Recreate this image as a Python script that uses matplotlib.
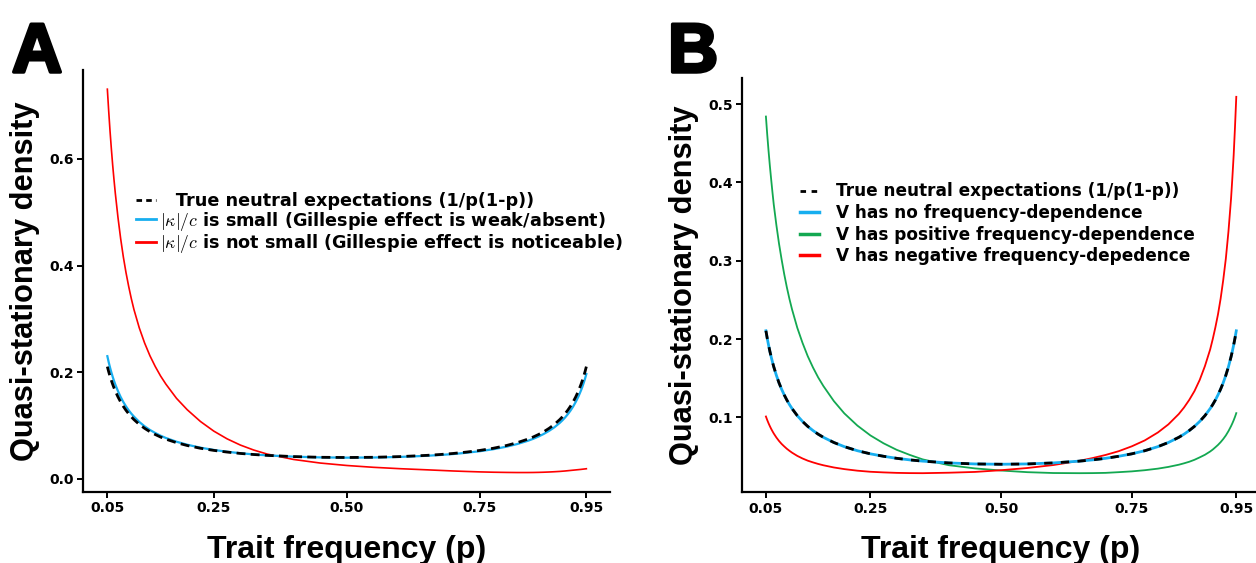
import matplotlib
matplotlib.use("Agg")
import matplotlib.pyplot as plt
from matplotlib.lines import Line2D
import matplotlib.patheffects as pe

plt.rcParams['font.family'] = ['DejaVu Sans']
plt.rcParams['mathtext.fontset'] = 'cm'
TITLE_FONT = ['Liberation Sans', 'DejaVu Sans']

# ---------------- data ----------------
p = [0.05, 0.0525, 0.055, 0.0575, 0.06, 0.0625, 0.065, 0.07, 0.075, 0.08, 0.085, 0.09,
     0.095, 0.10, 0.11, 0.12, 0.13, 0.14, 0.15, 0.16, 0.18, 0.20, 0.225, 0.25, 0.275,
     0.30, 0.325, 0.35, 0.40, 0.45, 0.50, 0.55, 0.60, 0.65, 0.675, 0.70, 0.725, 0.75,
     0.775, 0.80, 0.82, 0.84, 0.85, 0.86, 0.87, 0.88, 0.89, 0.90, 0.905, 0.91, 0.915,
     0.92, 0.925, 0.93, 0.935, 0.94, 0.9425, 0.945, 0.9475, 0.95]

neutral = [0.2105, 0.2010, 0.1924, 0.1845, 0.1773, 0.1707, 0.1645, 0.1536, 0.1441, 0.1359,
           0.1286, 0.1221, 0.1163, 0.1111, 0.1021, 0.0947, 0.0884, 0.0831, 0.0784, 0.0744,
           0.0678, 0.0625, 0.0573, 0.0533, 0.0502, 0.0476, 0.0456, 0.0440, 0.0417, 0.0404,
           0.0400, 0.0404, 0.0417, 0.0440, 0.0456, 0.0476, 0.0502, 0.0533, 0.0573, 0.0625,
           0.0678, 0.0744, 0.0784, 0.0831, 0.0884, 0.0947, 0.1021, 0.1111, 0.1163, 0.1221,
           0.1286, 0.1359, 0.1441, 0.1536, 0.1645, 0.1773, 0.1845, 0.1924, 0.2010, 0.2105]

# Panel A
a_small = [0.2301, 0.2189, 0.2089, 0.1998, 0.1915, 0.1838, 0.1768, 0.1644, 0.1535, 0.1441,
           0.1359, 0.1287, 0.1223, 0.1167, 0.1067, 0.0985, 0.0917, 0.0860, 0.0809, 0.0766,
           0.0696, 0.0640, 0.0584, 0.0542, 0.0508, 0.0480, 0.0458, 0.0440, 0.0416, 0.0402,
           0.0397, 0.0400, 0.0411, 0.0432, 0.0447, 0.0465, 0.0489, 0.0518, 0.0555, 0.0603,
           0.0652, 0.0713, 0.0750, 0.0793, 0.0842, 0.0900, 0.0967, 0.1049, 0.1097, 0.1150,
           0.1210, 0.1277, 0.1353, 0.1441, 0.1541, 0.1660, 0.1726, 0.1799, 0.1878, 0.1966]
a_notsmall = [0.7310, 0.6904, 0.6530, 0.6194, 0.5886, 0.5611, 0.5353, 0.4900, 0.4506, 0.4165,
              0.3871, 0.3613, 0.3381, 0.3175, 0.2831, 0.2548, 0.2309, 0.2107, 0.1929, 0.1776,
              0.1509, 0.1297, 0.1075, 0.0895, 0.0750, 0.0633, 0.0540, 0.0465, 0.0363, 0.0296,
              0.0250, 0.0216, 0.0190, 0.0169, 0.0158, 0.0147, 0.0138, 0.0130, 0.0124, 0.0120,
              0.0118, 0.0118, 0.0119, 0.0121, 0.0124, 0.0128, 0.0133, 0.0139, 0.0143, 0.0147,
              0.0152, 0.0157, 0.0162, 0.0167, 0.0172, 0.0177, 0.0180, 0.0183, 0.0186, 0.0189]

# Panel B
b_none = [0.2105, 0.2010, 0.1924, 0.1845, 0.1773, 0.1707, 0.1645, 0.1536, 0.1441, 0.1359,
          0.1286, 0.1221, 0.1163, 0.1111, 0.1021, 0.0947, 0.0884, 0.0831, 0.0784, 0.0744,
          0.0678, 0.0625, 0.0573, 0.0533, 0.0502, 0.0476, 0.0456, 0.0440, 0.0417, 0.0404,
          0.0400, 0.0404, 0.0417, 0.0440, 0.0456, 0.0476, 0.0502, 0.0533, 0.0573, 0.0625,
          0.0678, 0.0744, 0.0784, 0.0831, 0.0884, 0.0947, 0.1021, 0.1111, 0.1163, 0.1221,
          0.1286, 0.1359, 0.1441, 0.1536, 0.1645, 0.1773, 0.1845, 0.1924, 0.2010, 0.2105]
b_positive = [0.4842, 0.4613, 0.4406, 0.4216, 0.4042, 0.3875, 0.3718, 0.3456, 0.3221, 0.3017,
              0.2829, 0.2662, 0.2512, 0.2378, 0.2144, 0.1951, 0.1781, 0.1637, 0.1509, 0.1399,
              0.1207, 0.1050, 0.0894, 0.0768, 0.0668, 0.0585, 0.0520, 0.0462, 0.0388, 0.0347,
              0.0320, 0.0299, 0.0288, 0.0286, 0.0287, 0.0290, 0.0299, 0.0309, 0.0324, 0.0344,
              0.0366, 0.0394, 0.0412, 0.0432, 0.0457, 0.0488, 0.0521, 0.0563, 0.0588, 0.0617,
              0.0647, 0.0682, 0.0722, 0.0768, 0.0823, 0.0887, 0.0923, 0.0962, 0.1005, 0.1053]
b_negative = [0.1010, 0.0965, 0.0924, 0.0887, 0.0853, 0.0822, 0.0793, 0.0742, 0.0698, 0.0660,
              0.0628, 0.0598, 0.0572, 0.0548, 0.0507, 0.0474, 0.0446, 0.0424, 0.0404, 0.0387,
              0.0359, 0.0338, 0.0318, 0.0304, 0.0296, 0.0290, 0.0287, 0.0286, 0.0292, 0.0302,
              0.0324, 0.0352, 0.0390, 0.0444, 0.0479, 0.0519, 0.0567, 0.0629, 0.0705, 0.0806,
              0.0909, 0.1042, 0.1125, 0.1222, 0.1335, 0.1477, 0.1654, 0.1866, 0.2000, 0.2149,
              0.2315, 0.2514, 0.2752, 0.3026, 0.3372, 0.3794, 0.4059, 0.4348, 0.4703, 0.5094]

x_ticks = [0.05, 0.25, 0.50, 0.75, 0.95]
x_ticklabels = ["0.05", "0.25", "0.50", "0.75", "0.95"]
a_yticks = [0.0, 0.2, 0.4, 0.6]
a_yticklabels = ["0.0", "0.2", "0.4", "0.6"]
b_yticks = [0.1, 0.2, 0.3, 0.4, 0.5]
b_yticklabels = ["0.1", "0.2", "0.3", "0.4", "0.5"]

labels_a = ["  \u2009True neutral expectations (1/p(1-p))",
            r"$|\kappa|/c$ is small (Gillespie effect is weak/absent)",
            r"$|\kappa|/c$ is not small (Gillespie effect is noticeable)"]
labels_b = ["True neutral expectations (1/p(1-p))",
            "V has no frequency-dependence",
            "V has positive frequency-dependence",
            "V has negative frequency-depedence"]

BLUE = "#17AEEF"
RED = "#FF0000"
GREEN = "#13A851"
BLACK = "#000000"

W, H = 1256, 563
fig = plt.figure(figsize=(W / 100, H / 100), dpi=100)


def px_axes(left, top, right, bottom):
    return fig.add_axes([left / W, (H - bottom) / H, (right - left) / W, (bottom - top) / H])


def style(ax, yticks, yticklabels, wpx, hpx):
    for s in ("top", "right"):
        ax.spines[s].set_visible(False)
    for s in ("left", "bottom"):
        ax.spines[s].set_linewidth(1.6)
        ax.spines[s].set_color("black")
    ax.set_xticks(x_ticks)
    ax.set_xticklabels(x_ticklabels)
    ax.set_yticks(yticks)
    ax.set_yticklabels(yticklabels)
    ax.tick_params(axis="both", length=4, width=1.4, color="black", labelsize=10,
                   labelcolor="black", pad=3)
    for lab in ax.get_xticklabels() + ax.get_yticklabels():
        lab.set_fontweight("bold")
    ax.set_xlabel("Trait frequency (p)", fontsize=23, fontweight="bold", family=TITLE_FONT)
    ax.set_ylabel("Quasi-stationary density", fontsize=22.2, fontweight="bold",
                  family=TITLE_FONT)
    ax.xaxis.set_label_coords(0.5, -43.3 / hpx)
    ax.yaxis.set_label_coords(-43.5 / wpx, 0.5)
    ax.margins(x=0.05, y=0.05)


# ---- Panel A ----
axA = px_axes(83.4, 70, 610.3, 491.7)
axA.plot(p, a_notsmall, color=RED, lw=1.2, zorder=2)
axA.plot(p, a_small, color=BLUE, lw=1.6, zorder=3)
axA.plot(p, neutral, color=BLACK, lw=2.0, linestyle=(0, (3.2, 1.9)), zorder=4)
style(axA, a_yticks, a_yticklabels, 610.3 - 83.4, 491.7 - 70)

hA = [Line2D([], [], color=BLACK, lw=2.0, linestyle=(0, (2.0, 1.5))),
      Line2D([], [], color=BLUE, lw=2.0),
      Line2D([], [], color=RED, lw=2.0)]
legA = axA.legend(hA, labels_a, loc="upper left", bbox_to_anchor=(136 / W, (H - 192) / H),
                  bbox_transform=fig.transFigure, frameon=False, fontsize=12.7,
                  handlelength=1.15, handletextpad=0.2, labelspacing=-0.02, borderpad=0,
                  borderaxespad=0)
for t in legA.get_texts():
    t.set_fontweight("bold")

# ---- Panel B ----
axB = px_axes(742.4, 78, 1259.8, 492)
axB.plot(p, b_positive, color=GREEN, lw=1.3, zorder=2)
axB.plot(p, b_negative, color=RED, lw=1.3, zorder=2)
axB.plot(p, b_none, color=BLUE, lw=2.0, zorder=3)
axB.plot(p, neutral, color=BLACK, lw=2.0, linestyle=(0, (3.0, 3.0)), zorder=4)
style(axB, b_yticks, b_yticklabels, 1259.8 - 742.4, 492 - 78)

hB = [Line2D([], [], color=BLACK, lw=2.0, linestyle=(0, (2.0, 2.0))),
      Line2D([], [], color=BLUE, lw=2.5),
      Line2D([], [], color=GREEN, lw=2.5),
      Line2D([], [], color=RED, lw=2.5)]
legB = axB.legend(hB, labels_b, loc="upper left", bbox_to_anchor=(800 / W, (H - 182.5) / H),
                  bbox_transform=fig.transFigure, frameon=False, fontsize=12.2,
                  handlelength=1.1, handletextpad=1.0, labelspacing=0.21, borderpad=0,
                  borderaxespad=0)
for t in legB.get_texts():
    t.set_fontweight("bold")

# panel letters
stroke = [pe.withStroke(linewidth=2.5, foreground="black")]
fig.text(12 / W, (H - 72) / H, "A", fontsize=50, fontweight="bold", ha="left",
         va="baseline", path_effects=stroke, family=TITLE_FONT)
fig.text(668 / W, (H - 72) / H, "B", fontsize=50, fontweight="bold", ha="left",
         va="baseline", path_effects=stroke, family=TITLE_FONT)

fig.savefig("out.png", dpi=100)
